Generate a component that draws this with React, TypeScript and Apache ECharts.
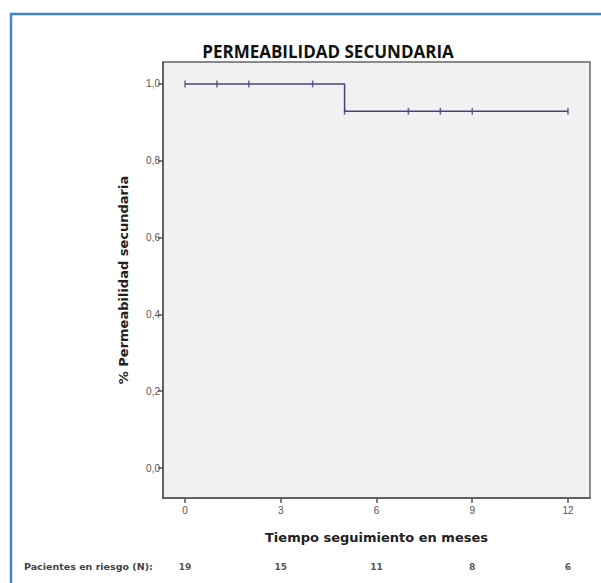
import React, { useEffect, useRef } from "react";
import * as echarts from "echarts";

const titleText = "PERMEABILIDAD SECUNDARIA";
const xAxisName = "Tiempo seguimiento en meses";
const yAxisName = "% Permeabilidad secundaria";
const riskLabel = "Pacientes en riesgo (N):";

// Kaplan-Meier step curve (months, survival)
const stepTimes = [0, 5, 12];
const stepValues = [1.0, 0.9286, 0.9286];

// censored marks
const censorTimes = [0, 1, 2, 4, 5, 7, 8, 9, 12];
const censorValues = [1.0, 1.0, 1.0, 1.0, 0.9286, 0.9286, 0.9286, 0.9286, 0.9286];

const xTicks = [0, 3, 6, 9, 12];
const yTicks = [0, 0.2, 0.4, 0.6, 0.8, 1.0];
const riskTimes = [0, 3, 6, 9, 12];
const riskCounts = [19, 15, 11, 8, 6];

export default function App() {
  const ref = useRef<HTMLDivElement>(null);
  useEffect(() => {
    if (!ref.current) return;
    const chart = echarts.init(ref.current, undefined, { renderer: "svg" });
    const lineColor = "#46467f";
    const axisColor = "#555555";
    chart.setOption({
      animation: false,
      backgroundColor: "#ffffff",
      title: {
        text: titleText,
        left: 323,
        top: 38,
        textAlign: "center",
        textStyle: { fontFamily: "Open Sans", fontWeight: "bold", fontSize: 17, color: "#111" },
      },
      grid: {
        left: 163,
        top: 62,
        right: 11,
        bottom: 85,
        show: true,
        backgroundColor: "#f1f1f1",
        borderColor: "#666666",
        borderWidth: 1.5,
      },
      xAxis: [
        {
          type: "value",
          min: -0.69,
          max: 12.69,
          position: "bottom",
          name: xAxisName,
          nameLocation: "middle",
          nameGap: 33,
          nameTextStyle: { fontFamily: "DejaVu Sans", fontWeight: "bold", fontSize: 13, color: "#222" },
          axisLine: { show: true, onZero: false, lineStyle: { color: axisColor, width: 1.5 } },
          axisTick: { show: true, inside: false, customValues: xTicks, length: 5, lineStyle: { color: axisColor, width: 1.5 } },
          axisLabel: {
            customValues: xTicks,
            fontSize: 10,
            color: "#555",
            margin: 7,
            formatter: (v: number) => String(v),
          },
          splitLine: { show: false },
        },
        {
          type: "value",
          min: -0.69,
          max: 12.69,
          position: "bottom",
          offset: 56,
          axisLine: { show: false, onZero: false },
          axisTick: { show: false },
          axisLabel: {
            customValues: riskTimes,
            fontSize: 9,
            fontWeight: "bold",
            fontFamily: "DejaVu Sans",
            color: "#555",
            formatter: (v: number) => {
              const i = riskTimes.indexOf(v);
              return i >= 0 ? String(riskCounts[i]) : "";
            },
          },
          splitLine: { show: false },
        },
      ],
      yAxis: {
        type: "value",
        min: -0.078,
        max: 1.057,
        name: yAxisName,
        nameLocation: "middle",
        nameGap: 33,
        nameTextStyle: { fontFamily: "DejaVu Sans", fontWeight: "bold", fontSize: 13, color: "#222" },
        axisLine: { show: true, onZero: false, lineStyle: { color: axisColor, width: 1.5 } },
        axisTick: { show: true, inside: false, customValues: yTicks, length: 5, lineStyle: { color: axisColor, width: 1.5 } },
        axisLabel: {
          customValues: yTicks,
          fontSize: 10,
          color: "#555",
          margin: 3,
          formatter: (v: number) => v.toFixed(1).replace(".", ","),
        },
        splitLine: { show: false },
      },
      graphic: [
        {
          type: "polyline",
          shape: { points: [[11, 583], [11, 14], [601, 14]] },
          style: { stroke: "#3d84d3", lineWidth: 2.5, fill: "none" },
        },
        {
          type: "text",
          left: 24,
          top: 561,
          style: { text: riskLabel, font: "bold 9.5px 'DejaVu Sans'", fill: "#444" },
        },
      ],
      series: [
        {
          type: "line",
          step: "end",
          data: stepTimes.map((t, i) => [t, stepValues[i]]),
          showSymbol: false,
          lineStyle: { color: lineColor, width: 1.5 },
          xAxisIndex: 0,
        },
        {
          type: "scatter",
          data: censorTimes.map((t, i) => [t, censorValues[i]]),
          symbol: "rect",
          symbolSize: [1.5, 7],
          itemStyle: { color: lineColor },
          xAxisIndex: 0,
        },
      ],
    });
    return () => chart.dispose();
  }, []);
  return <div ref={ref} style={{ position: "fixed", left: 0, top: 0, width: 601, height: 583 }} />;
}
